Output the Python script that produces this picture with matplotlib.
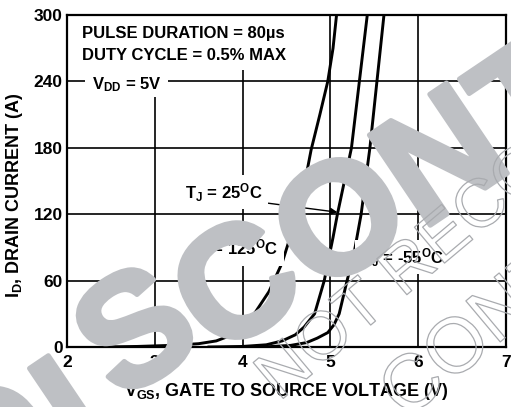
import matplotlib
matplotlib.use("Agg")
import matplotlib.pyplot as plt
from matplotlib.patches import Rectangle
from matplotlib import patheffects

plt.rcParams['font.family'] = ['Liberation Sans', 'DejaVu Sans']
plt.rcParams['font.weight'] = 'bold'
plt.rcParams['mathtext.fontset'] = 'custom'
plt.rcParams['mathtext.rm'] = 'Liberation Sans:bold'
plt.rcParams['mathtext.bf'] = 'Liberation Sans:bold'
plt.rcParams['mathtext.it'] = 'Liberation Sans:bold'
plt.rcParams['mathtext.default'] = 'bf'

# transfer curves (V_GS in V, I_D in A)
vgs_125 = [2.4, 2.8, 3.2, 3.5, 3.7, 3.85, 4.0, 4.15, 4.3, 4.45, 4.6, 4.7, 4.78, 4.88, 4.97, 5.03, 5.07]
id_125 = [0, 0.5, 1.5, 3, 5.5, 10, 18, 32, 50, 76, 114, 145, 178, 210, 240, 270, 300]

vgs_25 = [3.6, 4.0, 4.27, 4.45, 4.6, 4.7, 4.82, 4.93, 5.03, 5.08, 5.16, 5.24, 5.33, 5.42]
id_25 = [0, 0.5, 2, 5.5, 11, 18, 30, 60, 99, 120, 150, 180, 240, 300]

vgs_m55 = [4.0, 4.3, 4.55, 4.73, 4.85, 4.97, 5.04, 5.10, 5.19, 5.27, 5.35, 5.45, 5.53, 5.61]
id_m55 = [0, 0.3, 1.5, 4, 8, 13, 20, 30, 60, 85, 120, 180, 240, 300]

xticks = [2, 3, 4, 5, 6, 7]
yticks = [0, 60, 120, 180, 240, 300]

fig = plt.figure(figsize=(5.11, 4.07), dpi=100)
ax = fig.add_axes([67/511, 1-347/407, 439/511, 332/407])

ax.set_xlim(2, 7)
ax.set_ylim(0, 300)
ax.set_xticks(xticks)
ax.set_yticks(yticks)
ax.tick_params(length=0, labelsize=12.5)
ax.tick_params(axis='x', pad=6)
ax.tick_params(axis='y', pad=3)
for s in ax.spines.values():
    s.set_linewidth(1.6)
ax.set_axisbelow(True)
ax.grid(True, color='black', lw=1.2)

for v, i in [(vgs_125, id_125), (vgs_25, id_25), (vgs_m55, id_m55)]:
    ax.plot(v, i, color='black', lw=2.1, zorder=2, solid_capstyle='butt')

# white areas behind the test condition notes
ax.add_patch(Rectangle((2.09, 250), 2.56, 50, fc='white', ec='none', zorder=1))
ax.add_patch(Rectangle((2.2, 225.6), 0.95, 24.4, fc='white', ec='none', zorder=1))

ax.text(2.17, 283.3, u'PULSE DURATION = 80\u00b5s', fontsize=12, va='center', zorder=3)
ax.text(2.17, 263.5, 'DUTY CYCLE = 0.5% MAX', fontsize=12, va='center', zorder=3)
ax.text(2.284, 237.5, r'V$_{DD}$ = 5V', fontsize=12, va='center', zorder=3)

box = dict(boxstyle='square,pad=0.35', fc='white', ec='none')
ax.annotate(r'T$_J$ = 25$^O$C', xy=(5.08, 121.8), xytext=(3.34, 139.8),
            fontsize=12, va='center', ha='left', bbox=box, zorder=3,
            arrowprops=dict(arrowstyle='-|>', color='black', lw=1,
                            mutation_scale=10, shrinkA=0, shrinkB=0,
                            relpos=(1, 0.05)))
ax.text(4.40, 88.4, r'T$_J$ = 125$^O$C', fontsize=12, va='center', ha='right', bbox=box, zorder=3)
ax.text(6.30, 81, r'T$_J$ = -55$^O$C', fontsize=12, va='center', ha='right', bbox=box, zorder=3)

fig.text(286/511, 1-391/407, r'V$_{GS}$, GATE TO SOURCE VOLTAGE (V)', fontsize=13,
         ha='center', va='center')
fig.text(15/511, 1-195/407, r'I$_D$, DRAIN CURRENT (A)', fontsize=13,
         ha='center', va='center', rotation=90)

# watermark "DISCONT(INUED)", letters placed one by one (pixel centres)
wm_gray = '#bec0c4'
wm_letters = [('D', -8, 440), ('I', 68, 405), ('S', 132, 326), ('C', 233, 280),
              ('O', 337, 215), ('N', 437, 152), ('T', 527, 96)]
for ch, px, py in wm_letters:
    fig.text(px/511, 1-py/407, ch, fontsize=114, fontweight='bold',
             color=wm_gray, rotation=34, rotation_mode='anchor',
             ha='center', va='center_baseline', zorder=10,
             path_effects=[patheffects.withStroke(linewidth=3.5, foreground=wm_gray)])

outline = [patheffects.withStroke(linewidth=0.9, foreground='#a9abaf')]
fig.text(279/511, 1-402/407, 'NOT RECOMMENDED FOR NEW DESIGN', fontsize=49,
         fontweight='normal', color='none', rotation=40, rotation_mode='anchor',
         ha='left', va='baseline', zorder=11, path_effects=outline)
fig.text(406/511, 1-421/407, 'CONTACT OUR TECHNICAL SUPPORT CENTER', fontsize=56,
         fontweight='normal', color='none', rotation=40, rotation_mode='anchor',
         ha='left', va='baseline', zorder=11, path_effects=outline)

fig.savefig('out.png', dpi=100)
